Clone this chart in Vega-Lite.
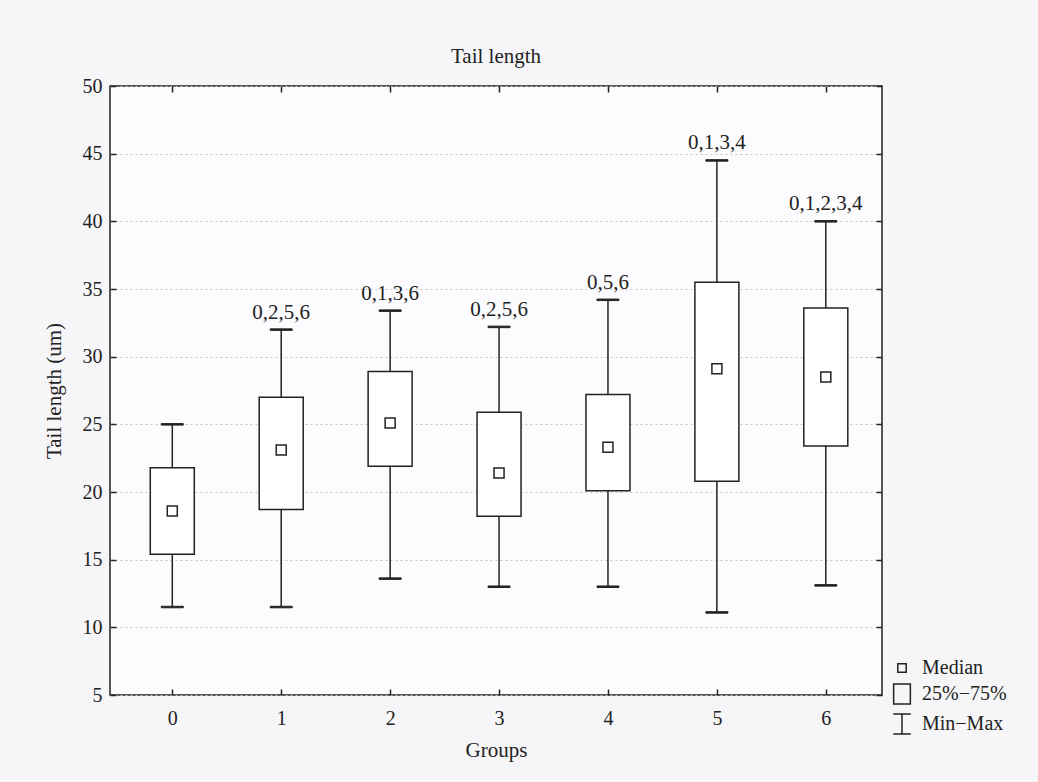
{
  "$schema": "https://vega.github.io/schema/vega-lite/v6.json",
  "width": 772,
  "height": 609,
  "autosize": {"type": "none"},
  "padding": {"left": 110, "top": 86, "right": 156, "bottom": 87},
  "background": "#f6f6f9",
  "title": {"text": "Tail length", "fontSize": 21, "font": "Liberation Serif", "fontWeight": "normal", "color": "#222", "offset": 23, "dy": 31, "baseline": "alphabetic", "anchor": "middle"},
  "config": {
    "view": {"stroke": "#222", "strokeWidth": 1.5, "fill": "#fcfcfe"},
    "font": "Liberation Serif",
    "axis": {"labelFont": "Liberation Serif", "titleFont": "Liberation Serif", "labelFontSize": 20, "titleFontSize": 21, "titleFontWeight": "normal", "labelColor": "#222", "titleColor": "#222", "tickColor": "#222", "tickWidth": 1.5, "domain": false},
    "legend": {"labelFont": "Liberation Serif", "labelFontSize": 20, "labelColor": "#222", "padding": 0}
  },
  "data": {"values": [
    {"group": 0, "min": 11.5, "q1": 15.4, "median": 18.6, "q3": 21.8, "max": 25.0, "label": ""},
    {"group": 1, "min": 11.5, "q1": 18.7, "median": 23.1, "q3": 27.0, "max": 32.0, "label": "0,2,5,6"},
    {"group": 2, "min": 13.6, "q1": 21.9, "median": 25.1, "q3": 28.9, "max": 33.4, "label": "0,1,3,6"},
    {"group": 3, "min": 13.0, "q1": 18.2, "median": 21.4, "q3": 25.9, "max": 32.2, "label": "0,2,5,6"},
    {"group": 4, "min": 13.0, "q1": 20.1, "median": 23.3, "q3": 27.2, "max": 34.2, "label": "0,5,6"},
    {"group": 5, "min": 11.1, "q1": 20.8, "median": 29.1, "q3": 35.5, "max": 44.5, "label": "0,1,3,4"},
    {"group": 6, "min": 13.1, "q1": 23.4, "median": 28.5, "q3": 33.6, "max": 40.0, "label": "0,1,2,3,4"}
  ]},
  "layer": [
    {
      "mark": {"type": "rule", "stroke": "#222", "strokeWidth": 1.5},
      "encoding": {
        "x": {"field": "group", "type": "quantitative", "scale": {"domain": [-0.526, 6.47], "nice": false, "zero": false},
              "axis": {"orient": "top", "values": [0, 1, 2, 3, 4, 5, 6], "labels": false, "title": null, "grid": false, "tickSize": -6}},
        "y": {"field": "min", "type": "quantitative", "scale": {"domain": [5, 50], "nice": false, "zero": false},
              "axis": {"orient": "right", "values": [5, 10, 15, 20, 25, 30, 35, 40, 45, 50], "labels": false, "title": null, "grid": false, "tickSize": -6}},
        "y2": {"field": "max"}
      }
    },
    {
      "mark": {"type": "tick", "orient": "horizontal", "stroke": "#222", "color": "#222", "size": 22, "thickness": 1.5, "opacity": 1},
      "encoding": {
        "x": {"field": "group", "type": "quantitative", "axis": null},
        "y": {"field": "min", "type": "quantitative", "axis": null}
      }
    },
    {
      "mark": {"type": "tick", "orient": "horizontal", "stroke": "#222", "color": "#222", "size": 22, "thickness": 1.5, "opacity": 1},
      "encoding": {
        "x": {"field": "group", "type": "quantitative", "axis": null},
        "y": {"field": "max", "type": "quantitative", "axis": null}
      }
    },
    {
      "mark": {"type": "bar", "width": 44, "fill": "#ffffff", "stroke": "#222", "strokeWidth": 1.5},
      "encoding": {
        "x": {"field": "group", "type": "quantitative",
              "axis": {"orient": "bottom", "values": [0, 1, 2, 3, 4, 5, 6], "format": "d", "title": "Groups", "grid": false, "tickSize": -6, "labelPadding": 19, "titlePadding": 11}},
        "y": {"field": "q1", "type": "quantitative",
              "axis": {"orient": "left", "values": [5, 10, 15, 20, 25, 30, 35, 40, 45, 50], "title": "Tail length (um)", "grid": true, "gridColor": "#c4c4c8", "gridDash": [2, 3], "gridWidth": 1, "tickSize": -6, "labelPadding": 14, "titlePadding": 18}},
        "y2": {"field": "q3"}
      }
    },
    {
      "mark": {"type": "point", "filled": false, "stroke": "#222", "strokeWidth": 1.5, "size": 692, "opacity": 1},
      "encoding": {
        "x": {"field": "group", "type": "quantitative", "axis": null},
        "y": {"field": "median", "type": "quantitative", "axis": null},
        "shape": {
          "datum": "Median",
          "scale": {"domain": ["Median", "25%\u221275%", "Min\u2212Max"],
                    "range": ["M-0.38,-0.38H0.38V0.38H-0.38Z", "M-0.76,-0.91H0.76V0.91H-0.76Z", "M-0.8,-0.91H0.8M0,-0.91V0.91M-0.8,0.91H0.8"]},
          "legend": {"title": null, "orient": "none", "legendX": 780, "legendY": 570, "symbolSize": 484, "symbolStrokeWidth": 1.5, "symbolStrokeColor": "#222", "symbolFillColor": "transparent", "rowPadding": 2, "labelOffset": 8}
        }
      }
    },
    {
      "mark": {"type": "text", "baseline": "alphabetic", "align": "center", "dy": -11, "fontSize": 21, "font": "Liberation Serif", "color": "#222"},
      "encoding": {
        "x": {"field": "group", "type": "quantitative", "axis": null},
        "y": {"field": "max", "type": "quantitative", "axis": null},
        "text": {"field": "label"}
      }
    }
  ],
  "resolve": {"axis": {"x": "independent", "y": "independent"}}
}
